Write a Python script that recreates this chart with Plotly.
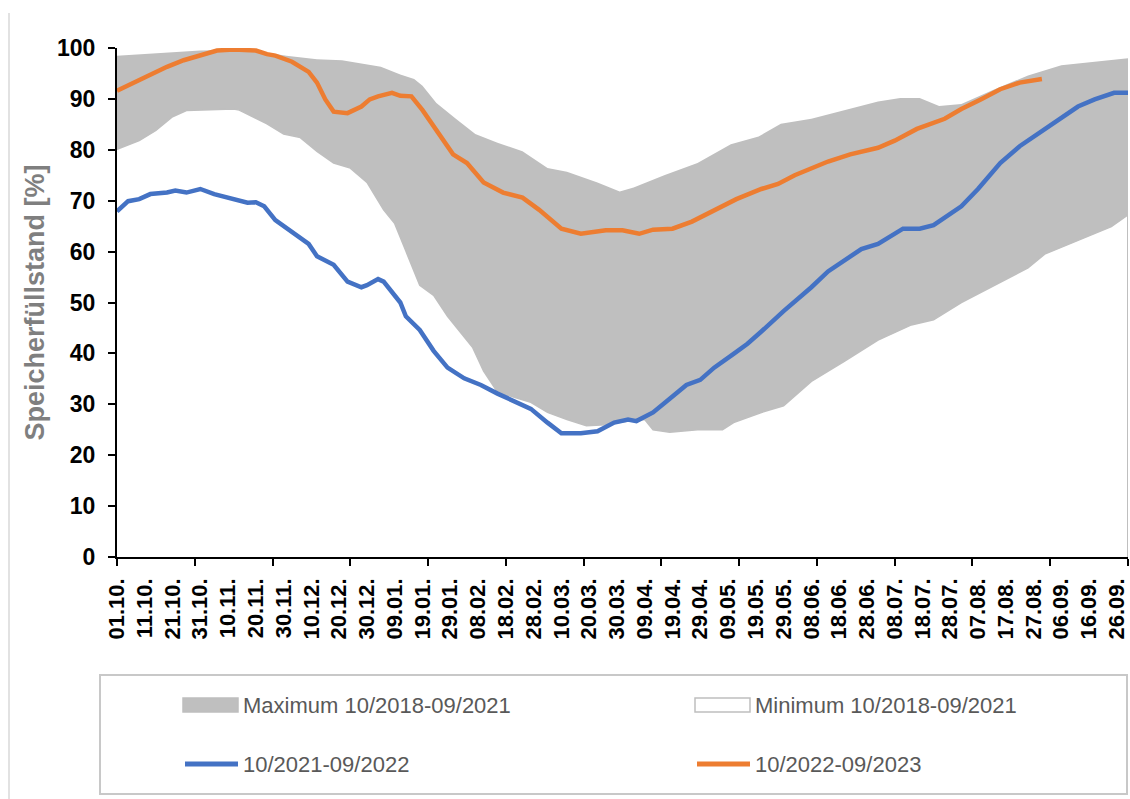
import plotly.graph_objects as go

# x = days counted from 01.10. (day 0) to 30.09. (day 364)
MAX_DAYS = [0, 10, 20, 30, 40, 50, 61, 72, 81, 90, 95, 102, 107, 110, 115, 122, 129, 137,
            146, 155, 162, 173, 179, 181, 186, 197, 209, 221, 231, 239, 250, 262, 274, 282,
            289, 296, 304, 316, 328, 340, 352, 364]
MAX_VALUES = [98.5, 98.8, 99.2, 99.5, 99.6, 99.4, 98.5, 97.8, 97.6, 96.8, 96.3, 94.8, 93.9, 92.6,
              89.2, 86.1, 83.1, 81.4, 79.7, 76.4, 75.7, 73.6, 72.3, 71.8, 72.6, 75.0, 77.4, 81.1,
              82.6, 85.1, 86.1, 87.8, 89.5, 90.2, 90.2, 88.6, 89.0, 91.9, 94.6, 96.6, 97.3, 98.0]

MIN_DAYS = [0, 8, 14, 20, 25, 42, 44, 54, 60, 66, 72, 78, 84, 90, 96, 100, 104, 109, 114, 119,
            124, 128, 132, 137, 143, 149, 155, 162, 169, 176, 184, 190, 193, 199, 209, 218, 222,
            227, 232, 240, 250, 262, 274, 286, 294, 304, 316, 328, 334, 346, 358, 364]
MIN_VALUES = [80.1, 81.8, 83.8, 86.5, 87.7, 88.0, 87.8, 85.1, 83.1, 82.4, 79.7, 77.4, 76.4, 73.6,
              68.2, 65.5, 60.1, 53.4, 51.4, 47.3, 43.9, 41.2, 36.5, 32.4, 31.4, 30.4, 28.4, 27.0,
              25.8, 26.0, 26.7, 27.0, 25.0, 24.5, 25.0, 25.0, 26.4, 27.4, 28.4, 29.7, 34.5, 38.5,
              42.6, 45.6, 46.6, 50.0, 53.4, 56.8, 59.5, 62.2, 64.9, 67.2]

DAYS_2122 = [0, 4, 8, 12, 18, 21, 25, 30, 35, 42, 47, 50, 53, 57, 64, 69, 72, 78, 83, 88, 90, 94,
             96, 99, 102, 104, 109, 114, 119, 125, 131, 137, 143, 149, 155, 160, 167, 173, 179,
             184, 187, 193, 199, 205, 210, 215, 222, 227, 232, 240, 250, 256, 268, 274, 283, 289,
             294, 304, 310, 318, 325, 334, 340, 346, 352, 359, 364]
VALUES_2122 = [67.9, 69.9, 70.3, 71.3, 71.6, 72.0, 71.6, 72.3, 71.3, 70.3, 69.6, 69.7, 68.9, 66.2,
               63.5, 61.5, 59.1, 57.4, 54.1, 53.0, 53.4, 54.6, 54.1, 52.0, 50.0, 47.3, 44.6, 40.5,
               37.2, 35.1, 33.8, 32.1, 30.7, 29.1, 26.4, 24.3, 24.3, 24.7, 26.4, 27.0, 26.7, 28.4,
               31.1, 33.8, 34.8, 37.2, 39.9, 41.9, 44.3, 48.3, 53.0, 56.1, 60.5, 61.5, 64.5, 64.5,
               65.2, 68.9, 72.3, 77.4, 80.7, 84.1, 86.5, 88.5, 89.9, 91.2, 91.2]

DAYS_2223 = [0, 6, 12, 18, 24, 30, 36, 42, 50, 54, 57, 63, 69, 72, 75, 78, 83, 88, 91, 94, 99,
             102, 106, 110, 115, 121, 126, 132, 139, 146, 152, 160, 167, 176, 182, 188, 193, 200,
             207, 215, 223, 232, 238, 244, 250, 256, 264, 274, 280, 288, 298, 304, 311, 318, 325,
             333]
VALUES_2223 = [91.6, 93.2, 94.9, 96.3, 97.6, 98.6, 99.5, 99.7, 99.5, 98.8, 98.5, 97.3, 95.3, 93.2,
               89.9, 87.5, 87.2, 88.5, 89.9, 90.5, 91.2, 90.6, 90.5, 87.8, 83.8, 79.1, 77.4, 73.6,
               71.6, 70.6, 68.2, 64.5, 63.5, 64.2, 64.2, 63.5, 64.3, 64.5, 65.9, 68.2, 70.3, 72.3,
               73.3, 75.0, 76.4, 77.7, 79.1, 80.4, 81.8, 84.1, 86.1, 88.0, 89.9, 91.9, 93.2, 93.9]

LABEL_DAYS = list(range(0, 361, 10))
LABELS = ["01.10.", "11.10.", "21.10.", "31.10.", "10.11.", "20.11.", "30.11.", "10.12.",
          "20.12.", "30.12.", "09.01.", "19.01.", "29.01.", "08.02.", "18.02.", "28.02.",
          "10.03.", "20.03.", "30.03.", "09.04.", "19.04.", "29.04.", "09.05.", "19.05.",
          "29.05.", "08.06.", "18.06.", "28.06.", "08.07.", "18.07.", "28.07.", "07.08.",
          "17.08.", "27.08.", "06.09.", "16.09.", "26.09."]
MARK_DAYS = list(range(0, 365, 28))

GRAY = "#bfbfbf"
BLUE = "#4472c4"
ORANGE = "#ed7d31"
FONT = "Liberation Sans, Arial, sans-serif"

W, H = 1130, 799
# plot area in pixels
L, R, T, B = 117, 1128, 48, 557


def px(x):
    return (x - L) / (R - L)


def py(y):
    return (B - y) / (B - T)


fig = go.Figure()
fig.add_trace(go.Scatter(x=MAX_DAYS, y=MAX_VALUES, mode="lines", line=dict(color=GRAY, width=0),
                         fill="tozeroy", fillcolor=GRAY, name="Maximum 10/2018-09/2021",
                         hoverinfo="skip"))
fig.add_trace(go.Scatter(x=MIN_DAYS, y=MIN_VALUES, mode="lines", line=dict(color=GRAY, width=1.5),
                         fill="tozeroy", fillcolor="white", name="Minimum 10/2018-09/2021",
                         hoverinfo="skip"))
fig.add_trace(go.Scatter(x=DAYS_2122, y=VALUES_2122, mode="lines", line=dict(color=BLUE, width=4.5),
                         name="10/2021-09/2022"))
fig.add_trace(go.Scatter(x=DAYS_2223, y=VALUES_2223, mode="lines", line=dict(color=ORANGE, width=4.5),
                         name="10/2022-09/2023"))
# dummy trace so the label axis is drawn
fig.add_trace(go.Scatter(x=[0], y=[None], xaxis="x2", mode="lines", hoverinfo="skip"))

# right edge of the minimum area outline
fig.add_shape(type="line", x0=MIN_DAYS[-1], x1=MIN_DAYS[-1], y0=0, y1=MIN_VALUES[-1],
              line=dict(color=GRAY, width=2), layer="above")

# chart frame on the left
fig.add_shape(type="line", xref="paper", yref="paper", x0=px(9), x1=px(9), y0=py(13), y1=py(799),
              line=dict(color="#d9d9d9", width=1.5))

# legend drawn by hand (2 x 2 grid like the original)
fig.add_shape(type="rect", xref="paper", yref="paper", x0=px(100), x1=px(1127), y0=py(675), y1=py(794),
              line=dict(color="#c8c8c8", width=2), fillcolor="white")
legend_items = [
    ("rect", GRAY, GRAY, 183, 705, "Maximum 10/2018-09/2021"),
    ("rect", "white", GRAY, 695, 705, "Minimum 10/2018-09/2021"),
    ("line", BLUE, None, 183, 764, "10/2021-09/2022"),
    ("line", ORANGE, None, 695, 764, "10/2022-09/2023"),
]
for kind, color, border, x0, yc, text in legend_items:
    if kind == "rect":
        fig.add_shape(type="rect", xref="paper", yref="paper", x0=px(x0), x1=px(x0 + 55),
                      y0=py(yc - 7), y1=py(yc + 7), fillcolor=color, line=dict(color=border, width=1.5))
    else:
        fig.add_shape(type="line", xref="paper", yref="paper", x0=px(x0 + 2), x1=px(x0 + 55),
                      y0=py(yc), y1=py(yc), line=dict(color=color, width=5))
    fig.add_annotation(xref="paper", yref="paper", x=px(x0 + 58), y=py(yc), text=text,
                       showarrow=False, xanchor="left", yanchor="middle",
                       font=dict(family=FONT, size=22, color="#595959"))

fig.update_layout(
    width=W, height=H,
    margin=dict(l=L, r=W - R, t=T, b=H - B),
    paper_bgcolor="white", plot_bgcolor="white",
    showlegend=False,
    xaxis=dict(range=[0, 364], tickmode="array", tickvals=MARK_DAYS, ticks="outside", ticklen=7,
               tickwidth=2, tickcolor="black", showticklabels=False, showline=True,
               linecolor="black", linewidth=2, showgrid=False, zeroline=False),
    xaxis2=dict(overlaying="x", matches="x", anchor="y", side="bottom", tickmode="array",
                tickvals=LABEL_DAYS, ticktext=LABELS, tickangle=-90, ticks="", showline=False,
                showgrid=False, zeroline=False, ticklabelstandoff=16,
                tickfont=dict(family=FONT, size=22, color="black", weight="bold")),
    yaxis=dict(range=[0, 100], tickmode="linear", tick0=0, dtick=10, ticks="outside", ticklen=7,
               tickwidth=2, tickcolor="black", showline=True, linecolor="black", linewidth=2,
               showgrid=False, zeroline=False, automargin=False, ticklabelstandoff=8,
               tickfont=dict(family=FONT, size=23, color="black", weight="bold"),
               title=dict(text="Speicherfüllstand [%]", standoff=5,
                          font=dict(family=FONT, size=27, color="#7f7f7f", weight="bold"))),
)

# drop the default page margin so the figure fills the window exactly
fig.write_html("out.html", config={"displayModeBar": False},
               post_script="document.body.style.margin='0';document.body.style.overflow='hidden';")
